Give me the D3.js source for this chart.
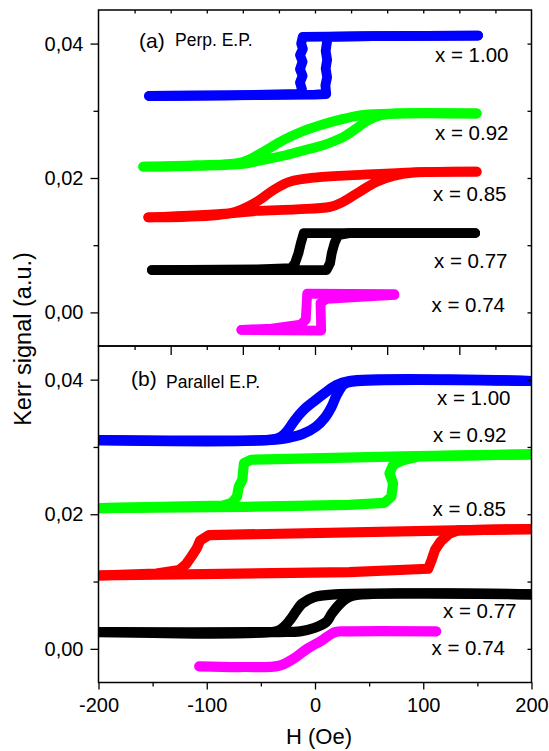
<!DOCTYPE html>
<html><head><meta charset="utf-8">
<script src="https://cdn.jsdelivr.net/npm/d3@7"></script>
<style>
body{margin:0;background:#fff}
svg{display:block}
text{font-family:"Liberation Sans",Arial,Helvetica,sans-serif;fill:#000}
</style>
</head><body>
<svg id="chart" width="549" height="751"></svg>
<script>
// ---------------- DATA ----------------
const compositions = ["1.00", "0.92", "0.85", "0.77", "0.74"];
const yTickValues = [0, 0.02, 0.04];
const yTickLabels = ["0,00", "0,02", "0,04"];
const yMinorTicks = [0.01, 0.03];
const xTickValuesB = [-200, -100, 0, 100, 200];
const xTickLabelsB = ["-200", "-100", "0", "100", "200"];
const xMinorTicksB = [-150, -50, 50, 150];
const xMajorTicksA = [-100, -50, 0, 50, 100];
const xMinorTicksA = [-125, -75, -25, 25, 75, 125];

// Panel (a) Perp. E.P. — [H (Oe), Kerr signal]
const perp100Up = [[-115,0.0322],[-60,0.0323],[0,0.0324],[7.8,0.0325],[7.2,0.0338],[8.4,0.0350],[7.4,0.0363],[8.4,0.0376],[7.4,0.0389],[8.2,0.0401],[9,0.0410],[40,0.0411],[113,0.0412]];
const perp100Down = [[113,0.0412],[40,0.0411],[-8.5,0.0410],[-9.6,0.0400],[-8.4,0.0392],[-10.4,0.0383],[-8.6,0.0373],[-10.4,0.0362],[-8.6,0.0352],[-10.4,0.0342],[-9,0.0332],[-11,0.0325],[-60,0.0323],[-115,0.0322]];
const perp092Up = [[-119,0.02168],[-82,0.0218],[-49.9,0.0221],[-35.8,0.0227],[-22,0.0233],[-8.1,0.0241],[5.8,0.0249],[19.6,0.0261],[28.8,0.0274],[35.8,0.0285],[45,0.0293],[56.6,0.0296],[112,0.0296]];
const perp092Down = [[112,0.0296],[56.6,0.0296],[33.5,0.0294],[19.6,0.0288],[5.8,0.0280],[-8.1,0.0270],[-22,0.02565],[-35.8,0.0239],[-49.9,0.0224],[-82,0.0219],[-119,0.02168]];
const perp085Up = [[-115.5,0.01415],[-58.9,0.01475],[-40.4,0.0151],[-12.7,0.01534],[10.4,0.0157],[19.6,0.01647],[31.2,0.0180],[42.8,0.01945],[54.3,0.0203],[68,0.0208],[112,0.02094]];
const perp085Down = [[112,0.02094],[68,0.02085],[33.5,0.0205],[1.2,0.0201],[-17.3,0.01945],[-28.9,0.0182],[-40.4,0.01647],[-58.9,0.01475],[-115.5,0.01415]];
const perp077Up = [[-113,0.0063],[8,0.0063],[10.4,0.0073],[11.6,0.0088],[13.5,0.0103],[16,0.0115],[23.7,0.0118],[111,0.0118]];
const perp077Down = [[111,0.0118],[-7.8,0.0118],[-9.8,0.0103],[-11.5,0.0088],[-13.9,0.0073],[-16.4,0.0066],[-40,0.0064],[-113,0.0063]];
const perp074Up = [[-51,-0.0026],[4.3,-0.0027],[3.8,0.0014],[8,0.0020],[55,0.0026]];
const perp074Down = [[55,0.0027],[-5.4,0.0028],[-6.4,-0.0011],[-9.8,-0.0018],[-30,-0.0024],[-51,-0.0026]];

// Panel (b) Parallel E.P.
const par100Up = [[-200,0.0310],[-36.4,0.0311],[-23.5,0.0314],[-10.5,0.0320],[0.8,0.0330],[8.9,0.0343],[15.4,0.0360],[20.3,0.0378],[26.7,0.0393],[34.8,0.0397],[200,0.0398]];
const par100Down = [[200,0.0398],[31.6,0.0398],[18.6,0.0391],[8.9,0.0380],[-0.8,0.0368],[-10.5,0.0355],[-18.6,0.0340],[-25.1,0.0325],[-31.6,0.0315],[-39.7,0.0311],[-200,0.0310]];
const par092Up = [[-200,0.0209],[-65.6,0.0211],[31.6,0.0214],[64,0.0217],[70.5,0.0226],[72.1,0.0246],[68.8,0.0261],[72.1,0.0273],[80.2,0.0280],[96.4,0.0286],[200,0.0289]];
const par092Down = [[200,0.0289],[80.2,0.0286],[-59.1,0.0281],[-65.6,0.0276],[-67.2,0.0251],[-70.4,0.0241],[-72.1,0.0226],[-76.9,0.0217],[-85,0.0213],[-200,0.0209]];
const par085Up = [[-200,0.0109],[31.6,0.0114],[104.5,0.0119],[107.7,0.0132],[110.9,0.0147],[115.8,0.0159],[123.9,0.0171],[132,0.0176],[200,0.0178]];
const par085Down = [[200,0.0178],[128.8,0.0176],[-98,0.0169],[-106.1,0.0161],[-109.3,0.0149],[-114.2,0.0137],[-119,0.0126],[-125.5,0.0117],[-146.6,0.0112],[-200,0.0109]];
const par077Up = [[-200,0.0025],[-33.2,0.0025],[-13.8,0.0026],[-0.8,0.0031],[10.5,0.0040],[15.4,0.0052],[21.9,0.0065],[28.3,0.0074],[34.8,0.0079],[200,0.0081]];
const par077Down = [[200,0.0081],[18.6,0.0081],[-0.8,0.0077],[-12.1,0.0067],[-17,0.0057],[-23.5,0.0042],[-29.9,0.0031],[-36.4,0.0026],[-200,0.0025]];
const par074 = [[-107,-0.0026],[-65.6,-0.0027],[-33.2,-0.0025],[-20.2,-0.0015],[-7.3,0.0000],[5.7,0.0012],[18.6,0.0025],[31.6,0.0026],[112,0.0026]];

// ---------------- STYLE / LAYOUT ----------------
const colors = ["#0000ff", "#00ff00", "#ff0000", "#000000", "#ff00ff"];
const perpBranches = [[perp100Up, perp100Down],[perp092Up, perp092Down],[perp085Up, perp085Down],[perp077Up, perp077Down],[perp074Up, perp074Down]];
const parBranches = [[par100Up, par100Down],[par092Up, par092Down],[par085Up, par085Down],[par077Up, par077Down],[par074]];
const perpSmooth = [false, true, true, false, false];
const parSmooth = [true, false, false, true, true];

const X0 = 98.5, X1 = 531.5, A_TOP = 10, MID = 346, B_BOT = 682.5;
const svg = d3.select("#chart");

const xA = d3.scaleLinear().domain([-150, 150]).range([X0, X1]);
const xB = d3.scaleLinear().domain([-200, 200]).range([X0, X1]);
const yA = d3.scaleLinear().domain([-0.005, 0.045]).range([MID, A_TOP]);
const yB = d3.scaleLinear().domain([-0.005, 0.045]).range([B_BOT, MID]);

const defs = svg.append("defs");
defs.append("clipPath").attr("id","clipA").append("rect").attr("x",X0).attr("y",A_TOP).attr("width",X1-X0).attr("height",MID-A_TOP);
defs.append("clipPath").attr("id","clipB").append("rect").attr("x",X0).attr("y",MID).attr("width",X1-X0).attr("height",B_BOT-MID);

function drawCurves(branches, smooth, x, y, clip, width) {
  const g = svg.append("g").attr("clip-path", `url(#${clip})`);
  branches.forEach((br, i) => {
    const line = d3.line().x(d => x(d[0])).y(d => y(d[1]))
      .curve(smooth[i] ? d3.curveCatmullRom.alpha(0.5) : d3.curveLinear);
    br.forEach(b => {
      g.append("path").attr("d", line(b)).attr("fill","none")
        .attr("stroke", colors[i]).attr("stroke-width", width)
        .attr("stroke-linecap","round").attr("stroke-linejoin","round");
    });
  });
}
drawCurves(perpBranches, perpSmooth, xA, yA, "clipA", 9.8);
drawCurves(parBranches, parSmooth, xB, yB, "clipB", 10.2);

function styleAxis(g, fs) {
  g.select(".domain").remove();
  g.selectAll(".tick line").attr("stroke","#000").attr("stroke-width",1.3);
  g.selectAll(".tick text").attr("font-size", fs).attr("fill","#000")
    .attr("font-family","Liberation Sans, Arial, sans-serif");
}

[yA, yB].forEach(y => {
  styleAxis(svg.append("g").attr("transform",`translate(${X0},0)`)
    .call(d3.axisLeft(y).tickValues(yTickValues).tickFormat((d,i)=>yTickLabels[i]).tickSize(8).tickPadding(7)), 20);
  styleAxis(svg.append("g").attr("transform",`translate(${X0},0)`)
    .call(d3.axisLeft(y).tickValues(yMinorTicks).tickFormat("").tickSize(5)), 1);
  styleAxis(svg.append("g").attr("transform",`translate(${X1},0)`)
    .call(d3.axisLeft(y).tickValues(yTickValues.concat(yMinorTicks)).tickFormat("").tickSize(4)), 1);
});

styleAxis(svg.append("g").attr("transform",`translate(0,${A_TOP})`)
  .call(d3.axisBottom(xA).tickValues(xMajorTicksA.concat(xMinorTicksA)).tickFormat("").tickSize(3.5)), 1);
styleAxis(svg.append("g").attr("transform",`translate(0,${MID})`)
  .call(d3.axisBottom(xA).tickValues(xMajorTicksA).tickFormat("").tickSize(9)), 1);
styleAxis(svg.append("g").attr("transform",`translate(0,${MID})`)
  .call(d3.axisBottom(xA).tickValues(xMinorTicksA).tickFormat("").tickSize(4)), 1);

styleAxis(svg.append("g").attr("transform",`translate(0,${B_BOT})`)
  .call(d3.axisBottom(xB).tickValues(xTickValuesB).tickFormat((d,i)=>xTickLabelsB[i]).tickSize(7).tickPadding(8)), 20);
styleAxis(svg.append("g").attr("transform",`translate(0,${B_BOT})`)
  .call(d3.axisBottom(xB).tickValues(xMinorTicksB).tickFormat("").tickSize(4)), 1);

svg.append("rect").attr("x",X0).attr("y",A_TOP).attr("width",X1-X0).attr("height",MID-A_TOP)
  .attr("fill","none").attr("stroke","#000").attr("stroke-width",1.5);
svg.append("rect").attr("x",X0).attr("y",MID).attr("width",X1-X0).attr("height",B_BOT-MID)
  .attr("fill","none").attr("stroke","#000").attr("stroke-width",1.5);

svg.append("text").attr("x",139).attr("y",48).attr("font-size",21).text("(a)");
svg.append("text").attr("x",175).attr("y",46).attr("font-size",17.5).text("Perp. E.P.");
svg.append("text").attr("x",131).attr("y",386).attr("font-size",21).text("(b)");
svg.append("text").attr("x",166).attr("y",388).attr("font-size",17.5).text("Parallel E.P.");

const labelPosA = [[435,62],[435,139.5],[433,201],[434,268],[431.5,312.4]];
const labelPosB = [[437,404.5],[433,441.5],[432.5,515.5],[443,617.7],[431.5,655]];
compositions.forEach((c,i) => {
  svg.append("text").attr("x",labelPosA[i][0]).attr("y",labelPosA[i][1]).attr("font-size",20.5).text("x = " + c);
  svg.append("text").attr("x",labelPosB[i][0]).attr("y",labelPosB[i][1]).attr("font-size",20.5).text("x = " + c);
});

svg.append("text").attr("x",319).attr("y",744).attr("text-anchor","middle").attr("font-size",22).text("H (Oe)");
svg.append("text").attr("transform","translate(31,339) rotate(-90)").attr("text-anchor","middle").attr("font-size",23.5).text("Kerr signal (a.u.)");
</script>
</body></html>
